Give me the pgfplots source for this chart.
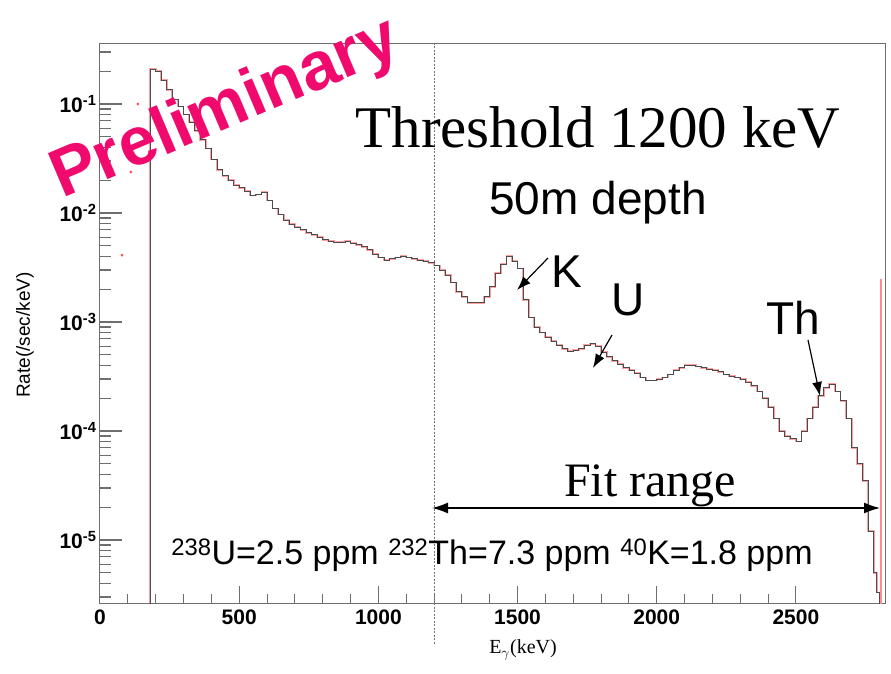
\documentclass[border=0pt]{standalone}
\usepackage{pgfplots}
\pgfplotsset{compat=1.18}
\usepackage{pgfplotstable}
\usepackage{fontspec}
\setmainfont{Liberation Serif}
\newfontfamily\arial{Liberation Sans}
\usetikzlibrary{arrows.meta}

\definecolor{prelim}{RGB}{240,10,110}
\definecolor{framegray}{RGB}{110,110,110}

% gamma-ray energy spectrum, 20 keV bins (left edge, rate)
\pgfplotstableread{
E     rate
180   1e-7
180   0.21
200   0.200
220   0.165
240   0.135
260   0.110
280   0.095
300   0.080
320   0.068
340   0.057
360   0.047
380   0.039
400   0.031
420   0.025
440   0.022
460   0.020
480   0.018
500   0.017
520   0.0158
540   0.0145
560   0.0148
580   0.0155
600   0.0130
620   0.0110
640   0.0097
660   0.0086
680   0.0079
700   0.0074
720   0.0070
740   0.0066
760   0.0063
780   0.0060
800   0.0057
820   0.0055
840   0.0054
860   0.0054
880   0.0055
900   0.0053
920   0.0051
940   0.0049
960   0.0046
980   0.0042
1000  0.0039
1020  0.0037
1040  0.0038
1060  0.0039
1080  0.0040
1100  0.0039
1120  0.0038
1140  0.0037
1160  0.0036
1180  0.0035
1200  0.0033
1220  0.0030
1240  0.0027
1260  0.0023
1280  0.0019
1300  0.0017
1320  0.0015
1340  0.0015
1360  0.0015
1380  0.0017
1400  0.0021
1420  0.0028
1440  0.0034
1460  0.0040
1480  0.0036
1500  0.0031
1520  0.0016
1540  0.0011
1560  0.00090
1580  0.00080
1600  0.00073
1620  0.00067
1640  0.00061
1660  0.00057
1680  0.00054
1700  0.00055
1720  0.00057
1740  0.00061
1760  0.00063
1780  0.00060
1800  0.00053
1820  0.00048
1840  0.00044
1860  0.00041
1880  0.00038
1900  0.00036
1920  0.00034
1940  0.00031
1960  0.00029
1980  0.00029
2000  0.00030
2020  0.00031
2040  0.00033
2060  0.00036
2080  0.00038
2100  0.00040
2120  0.00040
2140  0.00039
2160  0.00038
2180  0.00037
2200  0.00036
2220  0.00035
2240  0.00033
2260  0.00032
2280  0.00031
2300  0.00030
2320  0.00028
2340  0.00026
2360  0.00023
2380  0.00020
2400  0.000165
2420  0.000130
2440  0.000100
2460  0.000090
2480  0.000085
2500  0.000080
2520  0.000100
2540  0.000130
2560  0.000165
2580  0.00021
2600  0.00025
2620  0.00027
2640  0.00023
2660  0.00019
2680  0.00013
2700  0.00007
2720  0.00005
2740  0.000035
2760  0.000012
2780  0.000005
2790  0.0000033
2800  1e-7
2800  1e-7
}\spectrum

\begin{document}
\begin{tikzpicture}
\useasboundingbox (-100pt,-70pt) rectangle (791pt,603pt);
\begin{axis}[
  scale only axis,
  width=785pt, height=560pt,
  xmin=0, xmax=2820,
  ymode=log, ymin=2.64e-6, ymax=0.363,
  axis line style={framegray, line width=1pt},
  tick style={framegray, line width=1pt},
  major tick length=17pt, minor tick length=9pt,
  tick pos=left,
  tick align=inside,
  xtick={0,500,1000,1500,2000,2500},
  xticklabels={0,500,1000,1500,2000,2500},
  minor x tick num=4,
  ytick={1e-5,1e-4,1e-3,1e-2,1e-1},
  yticklabels={10\textsuperscript{-5},10\textsuperscript{-4},10\textsuperscript{-3},10\textsuperscript{-2},10\textsuperscript{-1}},
  /pgf/number format/assume math mode=true,
  tick label style={font=\arial\bfseries\fontsize{21}{21}\selectfont},
  xticklabel style={yshift=-3pt},
  clip=true,
]
% measured spectrum (red) and fitted spectrum (dark)
\addplot[const plot, red!75, line width=1.8pt, opacity=0.5] table[x=E, y=rate] {\spectrum};
\addplot[const plot, black!70, line width=0.8pt] table[x=E, y=rate] {\spectrum};
% points below the trigger edge
\addplot[only marks, mark=*, mark size=1.2pt, red!70] coordinates {(136,0.1) (111,0.0238) (79,0.0041)};
% overflow bin at the upper edge
\addplot[red!45, line width=2.2pt] coordinates {(2806,0.0025) (2806,1e-7)};
\end{axis}

% rate-axis tick marks (109pt per decade, 1e-5 at 63pt above the frame bottom)
\foreach \d in {63,172,281,390,499}
  \draw[framegray, line width=1.1pt] (0pt,\d pt) -- (22pt,\d pt);
\foreach \d in {-46,63,172,281,390,499} {
  \foreach \m in {32.8,52.0,65.6,76.2,84.8,92.1,98.4,104.0} {
    \pgfmathsetmacro\yy{\d+\m}
    \ifdim\yy pt>1pt \ifdim\yy pt<559pt
      \draw[framegray, line width=1.1pt] (0pt,\yy pt) -- (11pt,\yy pt);
    \fi\fi
  }
}

% threshold marker
\draw[black!55, line width=1pt, dash pattern=on 2pt off 1.5pt] (334pt,560pt) -- (334pt,-42pt);

% fit range
\draw[line width=1.3pt, {Latex[length=16pt,width=11pt]}-{Latex[length=16pt,width=11pt]}] (332pt,95pt) -- (780pt,95pt);
\node[font=\fontsize{48}{48}\selectfont] at (550pt,117pt) {Fit range};

\node[font=\fontsize{59}{59}\selectfont] at (498pt,476pt) {Threshold 1200 keV};
\node[font=\arial\fontsize{46}{46}\selectfont] at (498pt,400pt) {50m depth};

% peak labels
\node[font=\arial\fontsize{46}{46}\selectfont] at (467pt,331pt) {K};
\draw[line width=1.2pt, -{Latex[length=14pt,width=10pt]}] (448pt,345pt) -- (417pt,313pt);
\node[font=\arial\fontsize{46}{46}\selectfont] at (528pt,303pt) {U};
\draw[line width=1.2pt, -{Latex[length=14pt,width=10pt]}] (512pt,268pt) -- (493pt,235pt);
\node[font=\arial\fontsize{46}{46}\selectfont] at (693pt,285pt) {Th};
\draw[line width=1.2pt, -{Latex[length=14pt,width=10pt]}] (708pt,263pt) -- (720pt,207pt);

\node[font=\arial\fontsize{34}{34}\selectfont] at (392pt,48pt)
  {\textsuperscript{238}U=2.5 ppm \textsuperscript{232}Th=7.3 ppm \textsuperscript{40}K=1.8 ppm};

% axis titles
\node[font=\fontsize{20}{20}\selectfont] at (423pt,-47pt) {E\textsubscript{$\gamma$}(keV)};
\node[font=\arial\fontsize{19}{19}\selectfont, rotate=90] at (-75pt,268pt) {Rate(/sec/keV)};

% watermark
\node[font=\arial\bfseries\fontsize{68}{68}\selectfont, text=prelim, rotate=23, anchor=base west, inner sep=0pt] at (-38pt,404pt) {Preliminary};
\end{tikzpicture}
\end{document}
